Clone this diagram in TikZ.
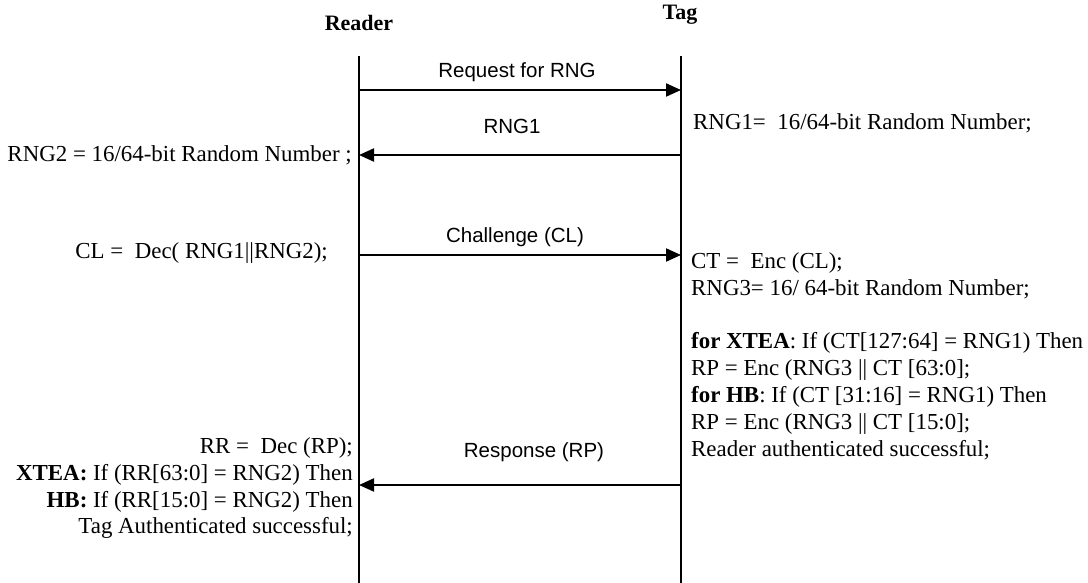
\documentclass[tikz,border=0pt]{standalone}
\usepackage{fontspec}
\setmainfont{Liberation Serif}
\newfontfamily\labelfont{Liberation Sans}
\usetikzlibrary{arrows.meta}
\tikzset{
  lifeline/.style={line width=2.4pt},
  msg/.style={line width=2pt,-{Triangle[length=15pt,width=13pt]}},
  head/.style={font=\fontsize{22}{26}\selectfont\bfseries, inner sep=0pt},
  msglabel/.style={font=\labelfont\fontsize{20.5}{24}\selectfont, inner sep=0pt},
  note/.style={font=\fontsize{22.9}{26.8}\selectfont, inner sep=0pt},
}
\begin{document}
\begin{tikzpicture}[x=1pt,y=-1pt]
\useasboundingbox[fill=white] (0,0) rectangle (1088,583);
% headers
\node[head] (reader) at (359,23) {Reader};
\node[head] (tag) at (680,15) {Tag};
% lifelines
\coordinate (rtop) at (359,56);
\coordinate (rbot) at (359,583);
\coordinate (ttop) at (681,56);
\coordinate (tbot) at (681,583);
\draw[lifeline] (rtop) -- (rbot);
\draw[lifeline] (ttop) -- (tbot);
% message points
\coordinate (r1) at (359,90);  \coordinate (t1) at (681,90);
\coordinate (r2) at (359,155); \coordinate (t2) at (681,155);
\coordinate (r3) at (359,255); \coordinate (t3) at (681,255);
\coordinate (r4) at (359,485); \coordinate (t4) at (681,485);
\draw[msg] (r1) -- (t1);
\draw[msg] (t2) -- (r2);
\draw[msg] (r3) -- (t3);
\draw[msg] (t4) -- (r4);
% message labels
\node[msglabel] (l1) at (517,72) {Request for RNG};
\node[msglabel] (l2) at (512,126) {RNG1};
\node[msglabel] (l3) at (515,237) {Challenge (CL)};
\node[msglabel] (l4) at (534,452) {Response (RP)};
% reader side notes
\node[note, anchor=east] (n1) at (352,155) {RNG2 = 16/64-bit Random Number ;};
\node[note, anchor=east] (n2) at (328,253) {CL =\ \ Dec( RNG1||RNG2);};
\node[note, anchor=north east, align=right] (n3) at (353,437.5)
  {RR =\ \ Dec (RP);\\
   \textbf{XTEA:} If (RR[63:0] = RNG2) Then\\
   \textbf{HB:} If (RR[15:0] = RNG2) Then\\
   Tag Authenticated successful;};
% tag side notes
\node[note, anchor=west] (n4) at (693,123) {RNG1=\ \ 16/64-bit Random Number;};
\node[note, anchor=north west, align=left] (n5) at (691,252.5)
  {CT =\ \ Enc (CL);\\
   RNG3= 16/ 64-bit Random Number;};
\node[note, anchor=north west, align=left] (n6) at (691,332.5)
  {\textbf{for XTEA}: If (CT[127:64] = RNG1) Then\\
   RP = Enc (RNG3 || CT [63:0];\\
   \textbf{for HB}: If (CT [31:16] = RNG1) Then\\
   RP = Enc (RNG3 || CT [15:0];\\
   Reader authenticated successful;};
\end{tikzpicture}
\end{document}
